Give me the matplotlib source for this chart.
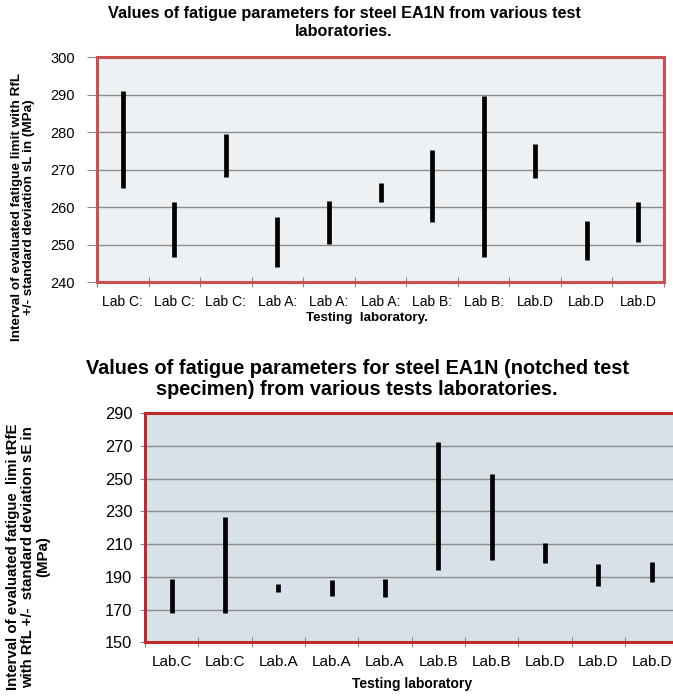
import numpy as np
import matplotlib
matplotlib.use("Agg")
import matplotlib.pyplot as plt

plt.rcParams['font.family'] = ['Liberation Sans', 'DejaVu Sans']

# smooth specimens: interval RfL +/- sL per laboratory
labs_smooth = ["Lab C:", "Lab C:", "Lab C:", "Lab A:", "Lab A:", "Lab A:",
               "Lab B:", "Lab B:", "Lab.D", "Lab.D", "Lab.D"]
low_smooth = [265.1, 246.8, 268.0, 244.1, 250.3, 261.4, 256.2, 246.7, 267.8, 245.9, 250.7]
high_smooth = [290.9, 261.5, 279.6, 257.5, 261.8, 266.4, 275.4, 289.7, 276.8, 256.3, 261.4]

# notched specimens: interval RfE +/- sE per laboratory
labs_notched = ["Lab.C", "Lab:C", "Lab.A", "Lab.A", "Lab.A",
                "Lab.B", "Lab.B", "Lab.D", "Lab.D", "Lab.D"]
low_notched = [167.7, 167.7, 180.9, 178.3, 177.5, 194.2, 200.1, 198.5, 184.4, 187.0]
high_notched = [188.5, 226.8, 185.5, 187.9, 188.5, 272.5, 252.9, 210.9, 197.9, 199.1]

W, H = 673, 697
fig = plt.figure(figsize=(W / 100, H / 100), dpi=100)


def frac(left, top, right, bottom):
    return [left / W, 1 - bottom / H, (right - left) / W, (bottom - top) / H]


def range_panel(ax, labels, low, high, ylim, step, face, edge):
    n = len(labels)
    x = np.arange(n) + 0.5
    ax.set_facecolor(face)
    ax.set_xlim(0, n)
    ax.set_ylim(*ylim)
    ax.set_yticks(np.arange(ylim[0], ylim[1] + 1, step))
    ax.yaxis.grid(True, color='#8c8c8c', linewidth=1.0)
    ax.set_axisbelow(True)
    ax.vlines(x, low, high, colors='black', linewidth=3.4, zorder=3)
    ax.set_xticks(np.arange(n + 1))
    ax.set_xticklabels([])
    ax.set_xticks(x, minor=True)
    ax.set_xticklabels(labels, minor=True)
    ax.tick_params(axis='x', which='major', direction='inout', length=7, color='#888888')
    ax.tick_params(axis='x', which='minor', length=0, pad=9)
    for s in ax.spines.values():
        s.set_color(edge)
        s.set_linewidth(2.2)


ax1 = fig.add_axes(frac(97, 57.3, 664, 282.3))
range_panel(ax1, labs_smooth, low_smooth, high_smooth, (240, 300), 10,
            '#edf1f4', '#c9514f')
ax1.tick_params(axis='x', which='minor', labelsize=10)
ax1.tick_params(axis='y', direction='out', length=7, pad=9, color='#888888', labelsize=10.5)
fig.text(344 / W, 1 - 22.5 / H,
         "Values of fatigue parameters for steel EA1N from various test\nlaboratories.",
         ha='center', va='center', fontsize=11.7, fontweight='bold', linespacing=1.3)
fig.text(367 / W, 1 - 318 / H, "Testing  laboratory.", ha='center', va='center',
         fontsize=9.6, fontweight='bold')
fig.text(23 / W, 1 - 207 / H,
         "Interval of evaluated fatigue limit with RfL\n+/- standard deviation sL in (MPa)",
         ha='center', va='center', rotation=90, fontsize=9.7, fontweight='bold',
         linespacing=1.1)

ax2 = fig.add_axes(frac(145, 413.3, 678.3, 642.3))
range_panel(ax2, labs_notched, low_notched, high_notched, (150, 290), 20,
            '#d8e1e8', '#c0282a')
ax2.tick_params(axis='x', which='minor', labelsize=11)
ax2.tick_params(axis='y', direction='out', length=3.5, pad=5.5, color='#888888', labelsize=11.8)
fig.text(357 / W, 1 - 379 / H,
         "Values of fatigue parameters for steel EA1N (notched test\nspecimen) from various tests laboratories.",
         ha='center', va='center', fontsize=14.3, fontweight='bold', linespacing=1.1)
fig.text(412 / W, 1 - 684 / H, "Testing laboratory", ha='center', va='center',
         fontsize=10, fontweight='bold')
fig.text(28 / W, 1 - 557 / H,
         "Interval of evaluated fatigue  limi tRfE\nwith RfL +/-  standard deviation sE in\n(MPa)",
         ha='center', va='center', rotation=90, fontsize=10.8, fontweight='bold',
         linespacing=1.1)

fig.savefig("out.png", dpi=100)
